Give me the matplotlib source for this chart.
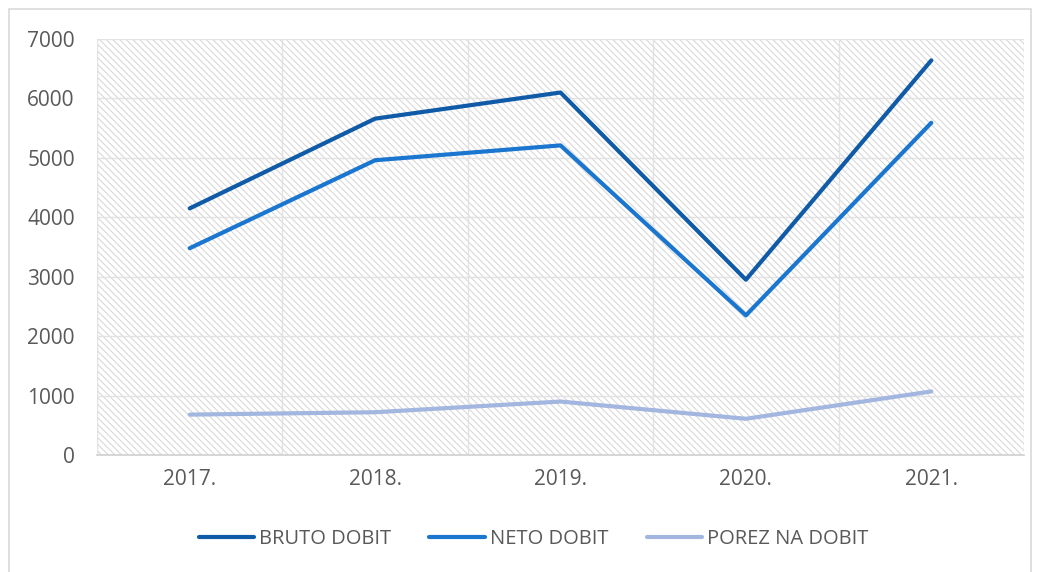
import matplotlib
matplotlib.use('Agg')
import matplotlib.pyplot as plt
from matplotlib.patches import Rectangle

years = ['2017.', '2018.', '2019.', '2020.', '2021.']
bruto_dobit = [4150, 5660, 6100, 2950, 6640]
neto_dobit = [3480, 4960, 5210, 2350, 5590]
porez_na_dobit = [680, 720, 900, 610, 1070]

SERIES = [
    ('BRUTO DOBIT', bruto_dobit, '#0f5ba8'),
    ('NETO DOBIT', neto_dobit, '#1b76d0'),
    ('POREZ NA DOBIT', porez_na_dobit, '#a2b6e0'),
]

plt.rcParams['font.family'] = ['Open Sans', 'DejaVu Sans']
plt.rcParams['hatch.color'] = '#d9d9d9'
plt.rcParams['hatch.linewidth'] = 0.8

fig = plt.figure(figsize=(10.4, 5.72), dpi=100)
ax = fig.add_axes([0.0933, 0.2045, 0.8913, 0.7273])

# outer chart border
fig.patches.append(Rectangle((9 / 1040, -0.01), 1022 / 1040, 1 - 9 / 572 + 0.01,
                             transform=fig.transFigure, fill=False,
                             edgecolor='#d9d9d9', lw=1.2))

# hatched plot area
ax.add_patch(Rectangle((0, 0), 1, 1, transform=ax.transAxes, facecolor='white',
                       edgecolor='#d9d9d9', hatch='\\\\\\\\\\', lw=0, zorder=0))

x = list(range(len(years)))
for label, vals, color in SERIES:
    ax.plot(x, vals, color=color, lw=3.0, label=label,
            solid_capstyle='round', solid_joinstyle='round', zorder=3)

ax.set_xlim(-0.5, len(years) - 0.5)
ax.set_ylim(0, 7000)
ax.set_yticks(range(0, 7001, 1000))
ax.set_xticks(x)
ax.set_xticklabels(years)
ax.set_xticks([i - 0.5 for i in range(len(years) + 1)], minor=True)

ax.set_axisbelow(True)
ax.grid(axis='y', which='major', color='#e2e2e2', lw=1.0, zorder=1)
ax.grid(axis='x', which='minor', color='#e2e2e2', lw=1.0, zorder=1)
ax.grid(axis='x', which='major', visible=False)

ax.tick_params(axis='both', which='both', length=0, labelcolor='#595959', labelsize=15)
ax.tick_params(axis='x', pad=10)
ax.tick_params(axis='y', pad=16)

for side in ['top', 'right', 'left']:
    ax.spines[side].set_visible(False)
ax.spines['bottom'].set_color('#d0d0d0')
ax.spines['bottom'].set_linewidth(1.2)

leg = fig.legend(*ax.get_legend_handles_labels(), loc='center', ncol=3,
                 bbox_to_anchor=(0.513, 0.058), frameon=False, fontsize=14.5,
                 handlelength=2.75, handletextpad=0.25, columnspacing=1.9)
for t in leg.get_texts():
    t.set_color('#595959')

fig.savefig('out.png', dpi=100, facecolor='white')
